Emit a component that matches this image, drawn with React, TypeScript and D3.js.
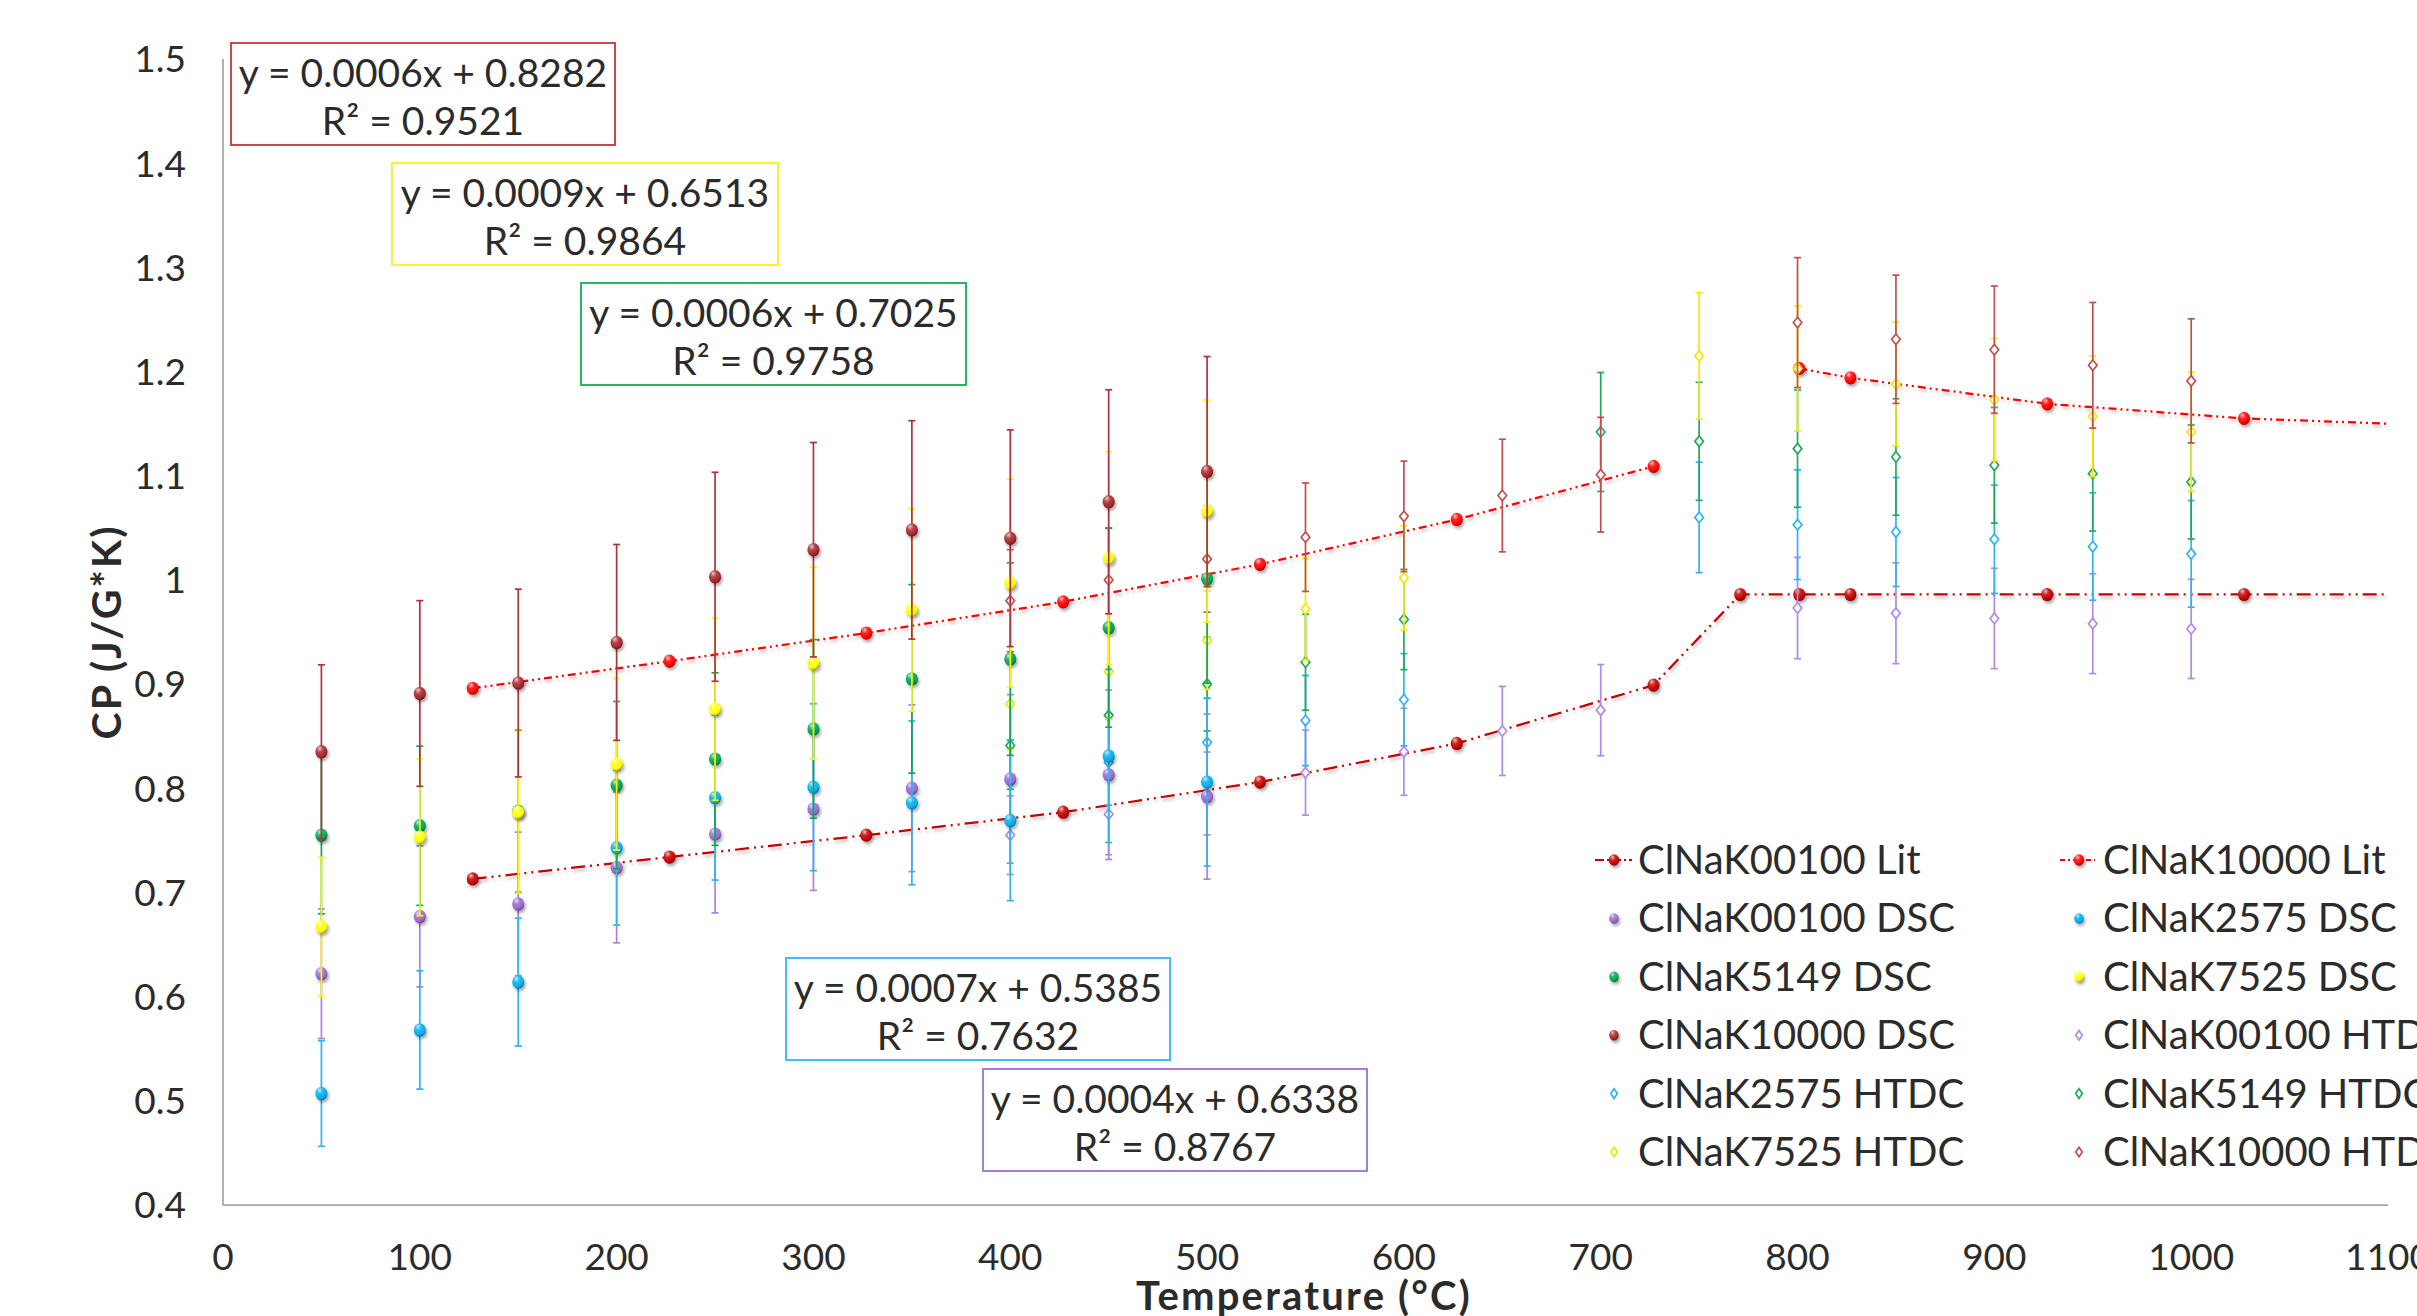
import React from 'react';
import * as d3 from 'd3';

const W = 2417;
const H = 1316;

// Temperatures (°C) of the DSC measurements
const dscTemps = [50, 100, 150, 200, 250, 300, 350, 400, 450, 500];
// Specific heat from DSC (J/g·K)
const dsc00100 = [0.622, 0.677, 0.689, 0.724, 0.756, 0.780, 0.800, 0.809, 0.813, 0.792];
const dsc2575 = [0.507, 0.568, 0.614, 0.743, 0.791, 0.801, 0.786, 0.769, 0.831, 0.806];
const dsc5149 = [0.755, 0.764, 0.778, 0.803, 0.828, 0.857, 0.905, 0.924, 0.954, 1.001];
const dsc7525 = [0.667, 0.753, 0.777, 0.823, 0.876, 0.920, 0.971, 0.997, 1.021, 1.066];
const dsc10000 = [0.835, 0.891, 0.901, 0.940, 1.003, 1.029, 1.048, 1.040, 1.075, 1.104];

// Temperatures (°C) of the HTDC measurements
const htdcTemps = [400, 450, 500, 550, 600, 650, 700, 750, 800, 850, 900, 950, 1000];
const htdc00100 = [0.755, 0.775, 0.795, 0.815, 0.835, 0.855, 0.875, null, 0.973, 0.968, 0.963, 0.958, 0.953];
const htdc2575 = [0.806, 0.825, 0.844, 0.865, 0.885, null, null, 1.060, 1.053, 1.046, 1.039, 1.032, 1.025];
const htdc5149 = [0.841, 0.870, 0.900, 0.921, 0.962, null, 1.142, 1.133, 1.126, 1.118, 1.110, 1.102, 1.094];
const htdc7525 = [0.881, 0.912, 0.942, 0.972, 1.002, null, null, 1.215, 1.203, 1.188, 1.173, 1.157, 1.142];
const htdc10000 = [0.980, 1.000, 1.020, 1.041, 1.061, 1.081, 1.101, null, 1.247, 1.231, 1.221, 1.206, 1.191];

// Relative uncertainty of each method
const dscErrorFraction = 0.10;
const htdcErrorFraction = 0.05;

// Literature values (°C, J/g·K); the last point only carries the curve to the axis edge
const litTemps = [126.85, 226.85, 326.85, 426.85, 526.85, 626.85, 726.85, 770.85, 800.85, 826.85, 926.85, 1026.85, 1099.85];
const lit00100 = [0.713, 0.734, 0.755, 0.777, 0.806, 0.843, 0.899, 0.986, 0.986, 0.986, 0.986, 0.986, 0.986];
const lit10000 = [0.896, 0.922, 0.949, 0.979, 1.015, 1.058, 1.109, null, 1.203, 1.194, 1.169, 1.155, 1.150];

// Axis ticks
const xTicks = [0, 100, 200, 300, 400, 500, 600, 700, 800, 900, 1000, 1100];
const yTicks = [0.4, 0.5, 0.6, 0.7, 0.8, 0.9, 1.0, 1.1, 1.2, 1.3, 1.4, 1.5];

// Linear-fit labels for the DSC series
const fitEquations = ['y = 0.0006x + 0.8282', 'y = 0.0009x + 0.6513', 'y = 0.0006x + 0.7025', 'y = 0.0007x + 0.5385', 'y = 0.0004x + 0.6338'];
const fitR2 = ['R² = 0.9521', 'R² = 0.9864', 'R² = 0.9758', 'R² = 0.7632', 'R² = 0.8767'];

const legendLabels = [
  'ClNaK00100 Lit', 'ClNaK10000 Lit',
  'ClNaK00100 DSC', 'ClNaK2575 DSC',
  'ClNaK5149 DSC', 'ClNaK7525 DSC',
  'ClNaK10000 DSC', 'ClNaK00100 HTDC',
  'ClNaK2575 HTDC', 'ClNaK5149 HTDC',
  'ClNaK7525 HTDC', 'ClNaK10000 HTDC',
];

const FONT = 'Lato, "Open Sans", sans-serif';
const TEXT = '#2b2b2b';

const C = {
  purple: '#9a68d2',
  cyan: '#00aeef',
  green: '#00a550',
  yellow: '#ffff00',
  darkred: '#a8262c',
  litLow: '#c40000',
  litHigh: '#ff0000',
};
const BAR = {
  purple: '#a983dc',
  cyan: '#2cb5ef',
  green: '#12a852',
  yellow: '#fff200',
  darkred: '#b1313a',
};
const DIAMOND = {
  purple: '#b08ae4',
  cyan: '#2fb4ee',
  green: '#22aa5a',
  yellow: '#f4e800',
  darkred: '#c0504d',
};

const x = d3.scaleLinear().domain([0, 1100]).range([223, 2388]);
const y = d3.scaleLinear().domain([0.4, 1.5]).range([1205, 59]);

type Pt = { t: number; v: number };
const zip = (ts: number[], vs: (number | null)[]): Pt[] =>
  ts.map((t, i) => ({ t, v: vs[i] as number })).filter((d) => d.v !== null && d.v !== undefined);

const dscSeries = [
  { key: 'purple', vals: dsc00100 },
  { key: 'cyan', vals: dsc2575 },
  { key: 'green', vals: dsc5149 },
  { key: 'yellow', vals: dsc7525 },
  { key: 'darkred', vals: dsc10000 },
];
const htdcSeries = [
  { key: 'purple', vals: htdc00100 },
  { key: 'cyan', vals: htdc2575 },
  { key: 'green', vals: htdc5149 },
  { key: 'yellow', vals: htdc7525 },
  { key: 'darkred', vals: htdc10000 },
];

function shade(col: string, k: number) {
  return k > 0 ? d3.interpolateRgb(col, '#ffffff')(k) : d3.interpolateRgb(col, '#000000')(-k);
}

function SphereGrad({ id, col }: { id: string; col: string }) {
  return (
    <radialGradient id={id} cx="38%" cy="30%" r="75%" fx="35%" fy="25%">
      <stop offset="0%" stopColor={shade(col, 0.75)} />
      <stop offset="35%" stopColor={shade(col, 0.15)} />
      <stop offset="75%" stopColor={col} />
      <stop offset="100%" stopColor={shade(col, -0.45)} />
    </radialGradient>
  );
}

function Sphere({ cx, cy, r, grad }: { cx: number; cy: number; r: number; grad: string }) {
  return <ellipse cx={cx} cy={cy} rx={r * 0.95} ry={r * 1.05} fill={`url(#${grad})`} filter="url(#shadow)" />;
}

function Diamond({ cx, cy, col, hw = 4.3, hh = 5.3 }: { cx: number; cy: number; col: string; hw?: number; hh?: number }) {
  return (
    <path
      d={`M${cx},${cy - hh}L${cx + hw},${cy}L${cx},${cy + hh}L${cx - hw},${cy}Z`}
      fill="#ffffff"
      stroke={col}
      strokeWidth={1.7}
    />
  );
}

function ErrorBar({ t, v, frac, col }: { t: number; v: number; frac: number; col: string }) {
  const cx = x(t);
  const y1 = y(v * (1 + frac));
  const y2 = y(v * (1 - frac));
  const cap = 3.5;
  return (
    <g stroke={col} strokeWidth={1.7}>
      <line x1={cx} x2={cx} y1={y1} y2={y2} />
      <line x1={cx - cap} x2={cx + cap} y1={y1} y2={y1} />
      <line x1={cx - cap} x2={cx + cap} y1={y2} y2={y2} />
    </g>
  );
}

const LOW_DASH = '14 5 2 5 2 5';
const HIGH_DASH = '8 4 2 4 2 4';

export default function App() {
  const lineGen = d3
    .line<{ t: number; v: number | null }>()
    .defined((d) => d.v !== null)
    .x((d) => x(d.t))
    .y((d) => y(d.v as number));

  const litLow = litTemps.map((t, i) => ({ t, v: lit00100[i], i }));
  const litHigh = litTemps.map((t, i) => ({ t, v: lit10000[i], i }));
  const lastLit = litTemps.length - 1;

  const boxes = [
    { x: 231, y: 43, w: 384, col: '#c8484e' },
    { x: 392, y: 163, w: 386, col: '#fdf22a' },
    { x: 581, y: 283, w: 385, col: '#2cb362' },
    { x: 786, y: 958, w: 384, col: '#43bdf2' },
    { x: 983, y: 1069, w: 384, col: '#a57bdb' },
  ];

  const legendRowY = (i: number) => 860 + i * 58.4;
  const legendColX = [1614, 2079];

  const legendMarker = (idx: number, mx: number, my: number) => {
    if (idx === 0)
      return (
        <g>
          <line x1={mx - 19} x2={mx + 18} y1={my} y2={my} stroke={C.litLow} strokeWidth={2} strokeDasharray="9 3 2 3" />
          <Sphere cx={mx} cy={my} r={5.5} grad="g-litLow" />
        </g>
      );
    if (idx === 1)
      return (
        <g>
          <line x1={mx - 19} x2={mx + 16} y1={my} y2={my} stroke={C.litHigh} strokeWidth={2} strokeDasharray="5 3 2 3" />
          <Sphere cx={mx} cy={my} r={5.5} grad="g-litHigh" />
        </g>
      );
    const dscKeys = ['purple', 'cyan', 'green', 'yellow', 'darkred'];
    if (idx >= 2 && idx <= 6) return <Sphere cx={mx} cy={my} r={5} grad={`g-${dscKeys[idx - 2]}`} />;
    const hk = dscKeys[idx - 7];
    return <Diamond cx={mx} cy={my} col={(DIAMOND as any)[hk]} hw={3.3} hh={4.8} />;
  };

  return (
    <div style={{ position: 'fixed', left: 0, top: 0, width: W, height: H, background: '#fff', overflow: 'hidden' }}>
      <svg width={W} height={H} viewBox={`0 0 ${W} ${H}`} style={{ display: 'block', fontFamily: FONT }}>
        <defs>
          <filter id="shadow" x="-50%" y="-50%" width="200%" height="200%">
            <feDropShadow dx="1.5" dy="2.5" stdDeviation="1.4" floodColor="#000" floodOpacity="0.35" />
          </filter>
          <filter id="lineShadow" x="-5%" y="-20%" width="110%" height="140%">
            <feDropShadow dx="1.5" dy="3" stdDeviation="1.6" floodColor="#000" floodOpacity="0.22" />
          </filter>
          {Object.entries(C).map(([k, col]) => (
            <SphereGrad key={k} id={`g-${k}`} col={col} />
          ))}
        </defs>

        {/* axes */}
        <line x1={x(0)} x2={x(0)} y1={y(1.5)} y2={y(0.4)} stroke="#a6a6a6" strokeWidth={1.75} />
        <line x1={x(0)} x2={x(1100)} y1={y(0.4)} y2={y(0.4)} stroke="#a6a6a6" strokeWidth={1.75} />

        {yTicks.map((v) => (
          <text key={v} x={186} y={y(v)} dy="0.36em" textAnchor="end" fontSize={37} fill={TEXT}>
            {d3.format('~g')(+v.toFixed(1))}
          </text>
        ))}
        {xTicks.map((t) => (
          <text key={t} x={x(t)} y={1270} textAnchor="middle" fontSize={37} fill={TEXT}>
            {t}
          </text>
        ))}

        <text x={1304} y={1310} textAnchor="middle" fontSize={40} fontWeight={700} letterSpacing={2.2} fill={TEXT}>
          Temperature (°C)
        </text>
        <text transform="translate(121,632) rotate(-90)" textAnchor="middle" fontSize={41} fontWeight={700} letterSpacing={2} fill={TEXT}>
          CP (J/G*K)
        </text>

        {/* literature curves */}
        <path d={lineGen(litLow) || ''} fill="none" stroke={C.litLow} strokeWidth={2.25} strokeDasharray={LOW_DASH} filter="url(#lineShadow)" />
        <path d={lineGen(litHigh) || ''} fill="none" stroke={C.litHigh} strokeWidth={2.25} strokeDasharray={HIGH_DASH} filter="url(#lineShadow)" />
        {litLow
          .filter((d) => d.i < lastLit)
          .map((d) => (
            <Sphere key={`ll${d.t}`} cx={x(d.t)} cy={y(d.v)} r={6.3} grad="g-litLow" />
          ))}
        {litHigh
          .filter((d) => d.v !== null && d.i < lastLit)
          .map((d) => (
            <Sphere key={`lh${d.t}`} cx={x(d.t)} cy={y(d.v as number)} r={6.3} grad="g-litHigh" />
          ))}

        {/* HTDC: open diamonds with error bars */}
        {htdcSeries.map((s) => (
          <g key={`h-${s.key}`}>
            {zip(htdcTemps, s.vals).map((d) => (
              <g key={d.t}>
                <ErrorBar t={d.t} v={d.v} frac={htdcErrorFraction} col={(DIAMOND as any)[s.key]} />
                <Diamond cx={x(d.t)} cy={y(d.v)} col={(DIAMOND as any)[s.key]} />
              </g>
            ))}
          </g>
        ))}

        {/* DSC: shaded spheres with error bars */}
        {dscSeries.map((s) => (
          <g key={`d-${s.key}`}>
            {zip(dscTemps, s.vals).map((d) => (
              <ErrorBar key={d.t} t={d.t} v={d.v} frac={dscErrorFraction} col={(BAR as any)[s.key]} />
            ))}
            {zip(dscTemps, s.vals).map((d) => (
              <Sphere key={`s${d.t}`} cx={x(d.t)} cy={y(d.v)} r={6.4} grad={`g-${s.key}`} />
            ))}
          </g>
        ))}

        {/* fit labels */}
        {boxes.map((b, i) => (
          <g key={`box${i}`}>
            <rect x={b.x} y={b.y} width={b.w} height={102} fill="#fff" stroke={b.col} strokeWidth={2} />
            <text x={b.x + b.w / 2} y={b.y + 44} textAnchor="middle" fontSize={39} fill={TEXT}>
              {fitEquations[i]}
            </text>
            <text x={b.x + b.w / 2} y={b.y + 92} textAnchor="middle" fontSize={39} fill={TEXT}>
              {fitR2[i]}
            </text>
          </g>
        ))}

        {/* legend */}
        {legendLabels.map((lab, i) => {
          const row = Math.floor(i / 2);
          const col = i % 2;
          const my = legendRowY(row);
          const mx = legendColX[col];
          return (
            <g key={lab}>
              {legendMarker(i, mx, my)}
              <text x={mx + 24} y={my + 14} fontSize={40} fill={TEXT}>
                {lab}
              </text>
            </g>
          );
        })}
      </svg>
    </div>
  );
}
